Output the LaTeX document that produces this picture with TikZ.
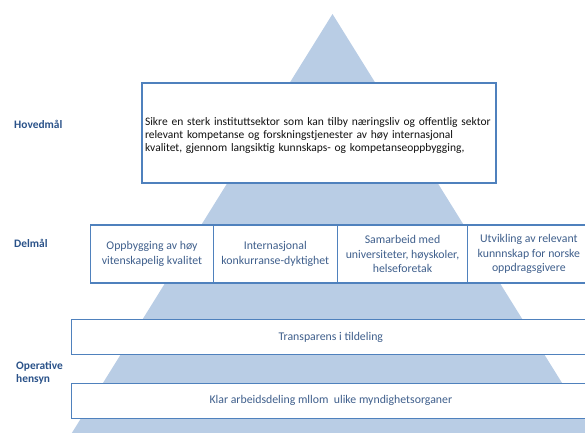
\documentclass[tikz,border=0pt]{standalone}
\usepackage{fontspec}
\setmainfont{Carlito}
\definecolor{trifill}{HTML}{B9CDE5}
\definecolor{boxblue}{HTML}{4F81BD}
\definecolor{boxtext}{HTML}{3F5F8C}
\definecolor{labblue}{HTML}{2A5289}
\definecolor{maintext}{HTML}{111111}
\begin{document}
\begin{tikzpicture}[x=1pt,y=-1pt,
  box/.style={draw=boxblue,line width=1.2pt,fill=white,inner sep=0pt,align=center,
    font=\fontsize{11.8}{14.3}\selectfont,text=boxtext},
  lab/.style={anchor=west,inner sep=0pt,font=\bfseries\fontsize{11.4}{12.7}\selectfont,text=labblue,align=left}]
\useasboundingbox (0,0) rectangle (585,432);
\begin{scope}
\clip (0,0) rectangle (585,432);
\fill[trifill] (332.5,14) -- (602.5,448) -- (62.5,448) -- cycle;
\node[box,minimum width=354pt,minimum height=100pt] (main) at (319,133) {};
\node[text=maintext,align=left,text width=348pt,inner sep=0pt,
  font=\fontsize{11.5}{12.7}\selectfont] (maintxt) at ([yshift=-2.5pt]main.center)
  {Sikre en sterk instituttsektor som kan tilby næringsliv og offentlig sektor\\
   relevant kompetanse og forskningstjenester av høy internasjonal\\
   kvalitet, gjennom langsiktig kunnskaps- og kompetanseoppbygging,};
\node[box,minimum width=122.6pt,minimum height=58pt] (d1) at (152,254)
  {Oppbygging av høy\\vitenskapelig kvalitet};
\node[box,minimum width=124pt,minimum height=58pt] (d2) at (275.3,254)
  {Internasjonal\\konkurranse-dyktighet};
\node[box,minimum width=130.4pt,minimum height=58pt] (d3) at (402.5,254)
  {Samarbeid med\\universiteter, høyskoler,\\helseforetak};
\node[box,minimum width=122.3pt,minimum height=58pt] (d4) at (528.85,254)
  {Utvikling av relevant\\kunnnskap for norske\\oppdragsgivere};
\node[box,minimum width=518.3pt,minimum height=35.4pt] (o1) at (330.85,337)
  {Transparens i tildeling};
\node[box,minimum width=518.3pt,minimum height=35pt] (o2) at (330.85,400.8)
  {Klar arbeidsdeling mllom\ \ ulike myndighetsorganer};
\end{scope}
\node[lab] (l1) at (14,124) {Hovedmål};
\node[lab] (l2) at (14,243) {Delmål};
\node[lab] (l3) at (16,373) {Operative\\hensyn};
\end{tikzpicture}
\end{document}
